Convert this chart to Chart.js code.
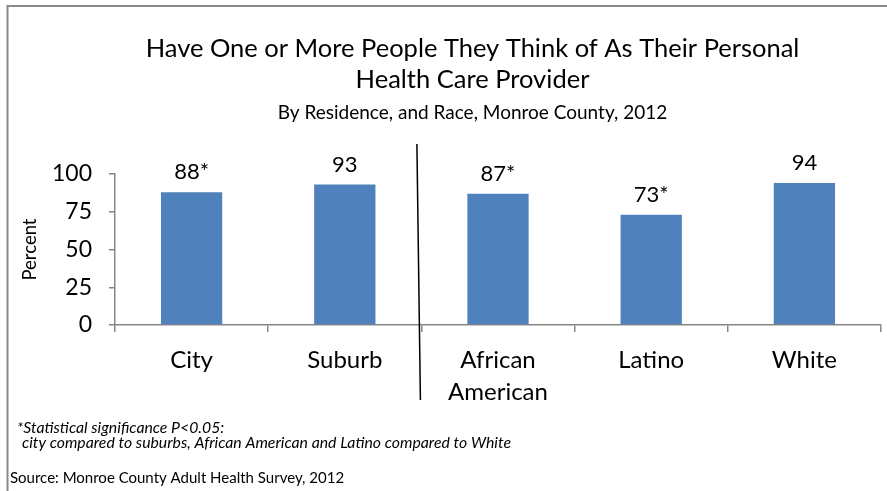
<!DOCTYPE html>
<html>
<head>
<meta charset="utf-8">
<script src="https://cdn.jsdelivr.net/npm/chart.js@4"></script>
<style>
    html, body { margin: 0; padding: 0; background: #fff; }
    #wrap { width: 887px; height: 491px; position: relative; }
</style>
</head>
<body>
<div id="wrap"><canvas id="chart1"></canvas></div>
<script>
const categories = ['City', 'Suburb', ['African', 'American'], 'Latino', 'White'];
const percents = [88, 93, 87, 73, 94];
const significant = [true, false, true, true, false];
const yTicks = [0, 25, 50, 75, 100];

const titleLines = ['Have One or More People They Think of As Their Personal', 'Health Care Provider'];
const subtitleText = 'By Residence, and Race, Monroe County, 2012';
const footLines = [
    '*Statistical significance P<0.05:',
    'city compared to suburbs, African American and Latino compared to White'
];
const sourceText = 'Source: Monroe County Adult Health Survey, 2012';

const FONT = 'Lato, Carlito, Calibri, sans-serif';
const AXIS_GREY = '#868686';

// value labels above each bar
const valueLabels = {
    id: 'valueLabels',
    afterDatasetsDraw(chart) {
        const ctx = chart.ctx;
        const meta = chart.getDatasetMeta(0);
        ctx.save();
        ctx.font = '22px ' + FONT;
        ctx.fillStyle = '#000';
        ctx.textAlign = 'center';
        ctx.textBaseline = 'middle';
        meta.data.forEach((bar, i) => {
            var txt = percents[i] + (significant[i] ? '*' : '');
            ctx.fillText(txt, bar.x, bar.y - 20);
        });
        ctx.restore();
    }
};

// title block sits a bit right of the canvas centre in the original
const titleShift = {
    id: 'titleShift',
    afterLayout(chart) {
        chart.boxes.forEach(b => {
            if (b.position === 'top' && !b.axis) {
                b.left += 28;
                b.right += 28;
            }
        });
    }
};

// divider between residence and race groups, footnotes, frame
const extras = {
    id: 'extras',
    afterDraw(chart) {
        const ctx = chart.ctx;
        const x = chart.scales.x;
        const mid = (x.getPixelForValue(1) + x.getPixelForValue(2)) / 2;
        ctx.save();
        ctx.strokeStyle = '#000';
        ctx.lineWidth = 1.5;
        ctx.beginPath();
        ctx.moveTo(mid - 4.5, 144);
        ctx.lineTo(mid - 1, 400);
        ctx.stroke();

        ctx.strokeStyle = '#8a8a8a';
        ctx.lineWidth = 2;
        ctx.beginPath();
        ctx.moveTo(7.5, 491);
        ctx.lineTo(7.5, 6);
        ctx.lineTo(887, 6);
        ctx.stroke();

        ctx.fillStyle = '#000';
        ctx.textAlign = 'left';
        ctx.textBaseline = 'middle';
        ctx.font = 'italic 15.8px ' + FONT;
        ctx.fillText(footLines[0], 17, 428);
        ctx.fillText(footLines[1], 22, 443);
        ctx.font = '15px ' + FONT;
        ctx.fillText(sourceText, 10, 478);
        ctx.restore();
    }
};

const data = {
    labels: categories,
    datasets: [
        {
            label: 'Percent',
            data: percents,
            backgroundColor: '#4F81BD',
            barPercentage: 0.4,
            categoryPercentage: 1.0,
        }
    ]
};

const config = {
    type: 'bar',
    data: data,
    options: {
        responsive: false,
        animation: false,
        layout: {
            padding: { left: 8, right: 6, top: 0, bottom: 66 }
        },
        plugins: {
            legend: { display: false },
            tooltip: { enabled: false },
            title: {
                display: true,
                text: titleLines,
                color: '#000',
                font: { family: FONT, size: 25.5, weight: 'normal', lineHeight: 1.24 },
                padding: { top: 32.5, bottom: 0 }
            },
            subtitle: {
                display: true,
                text: subtitleText,
                color: '#000',
                font: { family: FONT, size: 19, weight: 'normal', lineHeight: 1.2 },
                padding: { top: 5.5, bottom: 50 }
            }
        },
        scales: {
            x: {
                grid: {
                    display: true,
                    drawOnChartArea: false,
                    offset: true,
                    tickLength: 7,
                    color: AXIS_GREY,
                    lineWidth: 1.5
                },
                border: { color: AXIS_GREY, width: 1.5 },
                ticks: {
                    color: '#000',
                    padding: 12,
                    maxRotation: 0,
                    autoSkip: false,
                    font: { family: FONT, size: 24, lineHeight: 1.33 }
                },
                afterFit: function (scale) { scale.height = 100; }
            },
            y: {
                min: 0,
                max: 100,
                afterBuildTicks: function (scale) {
                    scale.ticks = yTicks.map(v => ({ value: v }));
                },
                grid: {
                    display: true,
                    drawOnChartArea: false,
                    tickLength: 6,
                    color: AXIS_GREY,
                    lineWidth: 1.5
                },
                border: { color: AXIS_GREY, width: 1.5 },
                ticks: {
                    color: '#000',
                    padding: 17,
                    font: { family: FONT, size: 23 }
                },
                title: {
                    display: true,
                    text: 'Percent',
                    color: '#000',
                    font: { family: FONT, size: 18.5 },
                    padding: { top: 11, bottom: 0 }
                },
                afterFit: function (scale) { scale.width = 107; }
            }
        }
    },
    plugins: [titleShift, valueLabels, extras]
};

const canvas = document.getElementById('chart1');
canvas.width = 887;
canvas.height = 491;
const chart1 = new Chart(canvas, config);
</script>
</body>
</html>
